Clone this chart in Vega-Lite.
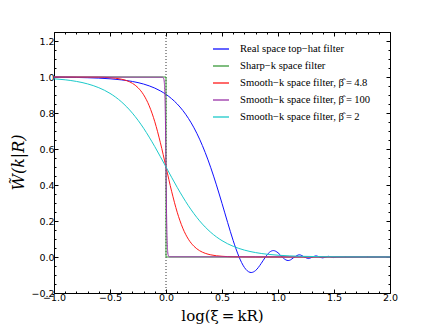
{
  "$schema": "https://vega.github.io/schema/vega-lite/v6.json",
  "width": 336,
  "height": 261,
  "autosize": {"type": "none"},
  "padding": {"left": 54, "top": 32, "right": 44, "bottom": 33},
  "background": "white",
  "config": {
    "view": {"stroke": null},
    "axis": {"grid": false, "domainColor": "black", "tickColor": "black", "labelFont": "DejaVu Sans", "labelFontSize": 9.5, "labelColor": "black", "domainWidth": 1, "tickWidth": 1, "titleColor": "black"},
    "legend": {"orient": "none", "legendX": 158, "legendY": 8, "symbolType": "stroke", "symbolSize": 256, "symbolStrokeWidth": 1.3, "labelFont": "Liberation Serif", "labelFontSize": 10.6, "labelColor": "black", "labelOffset": 10, "rowPadding": 2, "padding": 0, "labelLimit": 300}
  },
  "datasets": {
    "tophat": [
      {"x": -1.0, "W": 0.999, "filter": "Real space top−hat filter"},
      {"x": -0.9, "W": 0.9984, "filter": "Real space top−hat filter"},
      {"x": -0.8, "W": 0.9975, "filter": "Real space top−hat filter"},
      {"x": -0.7, "W": 0.996, "filter": "Real space top−hat filter"},
      {"x": -0.6, "W": 0.9937, "filter": "Real space top−hat filter"},
      {"x": -0.5, "W": 0.99, "filter": "Real space top−hat filter"},
      {"x": -0.4, "W": 0.9842, "filter": "Real space top−hat filter"},
      {"x": -0.3, "W": 0.9751, "filter": "Real space top−hat filter"},
      {"x": -0.2, "W": 0.9608, "filter": "Real space top−hat filter"},
      {"x": -0.1, "W": 0.9383, "filter": "Real space top−hat filter"},
      {"x": -0.05, "W": 0.9228, "filter": "Real space top−hat filter"},
      {"x": 0.0, "W": 0.9035, "filter": "Real space top−hat filter"},
      {"x": 0.05, "W": 0.8796, "filter": "Real space top−hat filter"},
      {"x": 0.1, "W": 0.8502, "filter": "Real space top−hat filter"},
      {"x": 0.15, "W": 0.8142, "filter": "Real space top−hat filter"},
      {"x": 0.2, "W": 0.7703, "filter": "Real space top−hat filter"},
      {"x": 0.25, "W": 0.7175, "filter": "Real space top−hat filter"},
      {"x": 0.3, "W": 0.6546, "filter": "Real space top−hat filter"},
      {"x": 0.35, "W": 0.5807, "filter": "Real space top−hat filter"},
      {"x": 0.4, "W": 0.4957, "filter": "Real space top−hat filter"},
      {"x": 0.45, "W": 0.4007, "filter": "Real space top−hat filter"},
      {"x": 0.5, "W": 0.298, "filter": "Real space top−hat filter"},
      {"x": 0.55, "W": 0.1923, "filter": "Real space top−hat filter"},
      {"x": 0.6, "W": 0.091, "filter": "Real space top−hat filter"},
      {"x": 0.625, "W": 0.045, "filter": "Real space top−hat filter"},
      {"x": 0.6526, "W": 0.0, "filter": "Real space top−hat filter"},
      {"x": 0.675, "W": -0.0309, "filter": "Real space top−hat filter"},
      {"x": 0.7, "W": -0.058, "filter": "Real space top−hat filter"},
      {"x": 0.725, "W": -0.0763, "filter": "Real space top−hat filter"},
      {"x": 0.75, "W": -0.0853, "filter": "Real space top−hat filter"},
      {"x": 0.7606, "W": -0.0862, "filter": "Real space top−hat filter"},
      {"x": 0.8, "W": -0.075, "filter": "Real space top−hat filter"},
      {"x": 0.85, "W": -0.0358, "filter": "Real space top−hat filter"},
      {"x": 0.8879, "W": 0.0, "filter": "Real space top−hat filter"},
      {"x": 0.9, "W": 0.0102, "filter": "Real space top−hat filter"},
      {"x": 0.925, "W": 0.0268, "filter": "Real space top−hat filter"},
      {"x": 0.9588, "W": 0.0356, "filter": "Real space top−hat filter"},
      {"x": 1.0, "W": 0.0235, "filter": "Real space top−hat filter"},
      {"x": 1.0376, "W": 0.0, "filter": "Real space top−hat filter"},
      {"x": 1.05, "W": -0.0074, "filter": "Real space top−hat filter"},
      {"x": 1.0907, "W": -0.0196, "filter": "Real space top−hat filter"},
      {"x": 1.1, "W": -0.0189, "filter": "Real space top−hat filter"},
      {"x": 1.1482, "W": 0.0, "filter": "Real space top−hat filter"},
      {"x": 1.1907, "W": 0.0124, "filter": "Real space top−hat filter"},
      {"x": 1.236, "W": 0.0, "filter": "Real space top−hat filter"},
      {"x": 1.2716, "W": -0.0086, "filter": "Real space top−hat filter"},
      {"x": 1.309, "W": 0.0, "filter": "Real space top−hat filter"},
      {"x": 1.3395, "W": 0.0063, "filter": "Real space top−hat filter"},
      {"x": 1.3715, "W": 0.0, "filter": "Real space top−hat filter"},
      {"x": 1.3982, "W": -0.0048, "filter": "Real space top−hat filter"},
      {"x": 1.426, "W": 0.0, "filter": "Real space top−hat filter"},
      {"x": 1.4496, "W": 0.0038, "filter": "Real space top−hat filter"},
      {"x": 1.4744, "W": 0.0, "filter": "Real space top−hat filter"},
      {"x": 1.4955, "W": -0.0031, "filter": "Real space top−hat filter"},
      {"x": 1.5179, "W": 0.0, "filter": "Real space top−hat filter"},
      {"x": 2.0, "W": 0.0, "filter": "Real space top−hat filter"}
    ],
    "sharpk": [
      {"x": -1.0, "W": 1.0, "o": 1, "filter": "Sharp−k space filter"},
      {"x": 0.0, "W": 1.0, "o": 2, "filter": "Sharp−k space filter"},
      {"x": 0.0, "W": 0.0, "o": 3, "filter": "Sharp−k space filter"},
      {"x": 2.0, "W": 0.0, "o": 4, "filter": "Sharp−k space filter"}
    ],
    "smoothk": [
      {"x": -1.0, "W": 1.0, "filter": "Smooth−k space filter, β̂\u2009=\u20094.8"},
      {"x": -0.6, "W": 0.9987, "filter": "Smooth−k space filter, β̂\u2009=\u20094.8"},
      {"x": -0.5, "W": 0.996, "filter": "Smooth−k space filter, β̂\u2009=\u20094.8"},
      {"x": -0.4, "W": 0.9881, "filter": "Smooth−k space filter, β̂\u2009=\u20094.8"},
      {"x": -0.35, "W": 0.9795, "filter": "Smooth−k space filter, β̂\u2009=\u20094.8"},
      {"x": -0.3, "W": 0.965, "filter": "Smooth−k space filter, β̂\u2009=\u20094.8"},
      {"x": -0.25, "W": 0.9406, "filter": "Smooth−k space filter, β̂\u2009=\u20094.8"},
      {"x": -0.2, "W": 0.9012, "filter": "Smooth−k space filter, β̂\u2009=\u20094.8"},
      {"x": -0.15, "W": 0.84, "filter": "Smooth−k space filter, β̂\u2009=\u20094.8"},
      {"x": -0.1, "W": 0.7513, "filter": "Smooth−k space filter, β̂\u2009=\u20094.8"},
      {"x": -0.05, "W": 0.6347, "filter": "Smooth−k space filter, β̂\u2009=\u20094.8"},
      {"x": 0.0, "W": 0.5, "filter": "Smooth−k space filter, β̂\u2009=\u20094.8"},
      {"x": 0.05, "W": 0.3653, "filter": "Smooth−k space filter, β̂\u2009=\u20094.8"},
      {"x": 0.1, "W": 0.2487, "filter": "Smooth−k space filter, β̂\u2009=\u20094.8"},
      {"x": 0.15, "W": 0.16, "filter": "Smooth−k space filter, β̂\u2009=\u20094.8"},
      {"x": 0.2, "W": 0.0988, "filter": "Smooth−k space filter, β̂\u2009=\u20094.8"},
      {"x": 0.25, "W": 0.0594, "filter": "Smooth−k space filter, β̂\u2009=\u20094.8"},
      {"x": 0.3, "W": 0.035, "filter": "Smooth−k space filter, β̂\u2009=\u20094.8"},
      {"x": 0.35, "W": 0.0205, "filter": "Smooth−k space filter, β̂\u2009=\u20094.8"},
      {"x": 0.4, "W": 0.0119, "filter": "Smooth−k space filter, β̂\u2009=\u20094.8"},
      {"x": 0.5, "W": 0.004, "filter": "Smooth−k space filter, β̂\u2009=\u20094.8"},
      {"x": 0.6, "W": 0.0013, "filter": "Smooth−k space filter, β̂\u2009=\u20094.8"},
      {"x": 0.8, "W": 0.0001, "filter": "Smooth−k space filter, β̂\u2009=\u20094.8"},
      {"x": 1.0, "W": 0.0, "filter": "Smooth−k space filter, β̂\u2009=\u20094.8"},
      {"x": 2.0, "W": 0.0, "filter": "Smooth−k space filter, β̂\u2009=\u20094.8"},
      {"x": -1.0, "W": 1.0, "filter": "Smooth−k space filter, β̂\u2009=\u2009100"},
      {"x": -0.03, "W": 0.999, "filter": "Smooth−k space filter, β̂\u2009=\u2009100"},
      {"x": -0.02, "W": 0.99, "filter": "Smooth−k space filter, β̂\u2009=\u2009100"},
      {"x": -0.015, "W": 0.9693, "filter": "Smooth−k space filter, β̂\u2009=\u2009100"},
      {"x": -0.01, "W": 0.9091, "filter": "Smooth−k space filter, β̂\u2009=\u2009100"},
      {"x": -0.005, "W": 0.7597, "filter": "Smooth−k space filter, β̂\u2009=\u2009100"},
      {"x": 0.0, "W": 0.5, "filter": "Smooth−k space filter, β̂\u2009=\u2009100"},
      {"x": 0.005, "W": 0.2403, "filter": "Smooth−k space filter, β̂\u2009=\u2009100"},
      {"x": 0.01, "W": 0.0909, "filter": "Smooth−k space filter, β̂\u2009=\u2009100"},
      {"x": 0.015, "W": 0.0307, "filter": "Smooth−k space filter, β̂\u2009=\u2009100"},
      {"x": 0.02, "W": 0.0099, "filter": "Smooth−k space filter, β̂\u2009=\u2009100"},
      {"x": 0.03, "W": 0.001, "filter": "Smooth−k space filter, β̂\u2009=\u2009100"},
      {"x": 2.0, "W": 0.0, "filter": "Smooth−k space filter, β̂\u2009=\u2009100"},
      {"x": -1.0, "W": 0.9901, "filter": "Smooth−k space filter, β̂\u2009=\u20092"},
      {"x": -0.9, "W": 0.9844, "filter": "Smooth−k space filter, β̂\u2009=\u20092"},
      {"x": -0.8, "W": 0.9755, "filter": "Smooth−k space filter, β̂\u2009=\u20092"},
      {"x": -0.7, "W": 0.9617, "filter": "Smooth−k space filter, β̂\u2009=\u20092"},
      {"x": -0.6, "W": 0.9406, "filter": "Smooth−k space filter, β̂\u2009=\u20092"},
      {"x": -0.5, "W": 0.9091, "filter": "Smooth−k space filter, β̂\u2009=\u20092"},
      {"x": -0.4, "W": 0.8632, "filter": "Smooth−k space filter, β̂\u2009=\u20092"},
      {"x": -0.3, "W": 0.7992, "filter": "Smooth−k space filter, β̂\u2009=\u20092"},
      {"x": -0.2, "W": 0.7153, "filter": "Smooth−k space filter, β̂\u2009=\u20092"},
      {"x": -0.1, "W": 0.6131, "filter": "Smooth−k space filter, β̂\u2009=\u20092"},
      {"x": 0.0, "W": 0.5, "filter": "Smooth−k space filter, β̂\u2009=\u20092"},
      {"x": 0.1, "W": 0.3869, "filter": "Smooth−k space filter, β̂\u2009=\u20092"},
      {"x": 0.2, "W": 0.2847, "filter": "Smooth−k space filter, β̂\u2009=\u20092"},
      {"x": 0.3, "W": 0.2008, "filter": "Smooth−k space filter, β̂\u2009=\u20092"},
      {"x": 0.4, "W": 0.1368, "filter": "Smooth−k space filter, β̂\u2009=\u20092"},
      {"x": 0.5, "W": 0.0909, "filter": "Smooth−k space filter, β̂\u2009=\u20092"},
      {"x": 0.6, "W": 0.0594, "filter": "Smooth−k space filter, β̂\u2009=\u20092"},
      {"x": 0.7, "W": 0.0383, "filter": "Smooth−k space filter, β̂\u2009=\u20092"},
      {"x": 0.8, "W": 0.0245, "filter": "Smooth−k space filter, β̂\u2009=\u20092"},
      {"x": 0.9, "W": 0.0156, "filter": "Smooth−k space filter, β̂\u2009=\u20092"},
      {"x": 1.0, "W": 0.0099, "filter": "Smooth−k space filter, β̂\u2009=\u20092"},
      {"x": 1.2, "W": 0.004, "filter": "Smooth−k space filter, β̂\u2009=\u20092"},
      {"x": 1.4, "W": 0.0016, "filter": "Smooth−k space filter, β̂\u2009=\u20092"},
      {"x": 1.6, "W": 0.0006, "filter": "Smooth−k space filter, β̂\u2009=\u20092"},
      {"x": 1.8, "W": 0.0003, "filter": "Smooth−k space filter, β̂\u2009=\u20092"},
      {"x": 2.0, "W": 0.0001, "filter": "Smooth−k space filter, β̂\u2009=\u20092"}
    ]
  },
  "layer": [
    {
      "data": {"values": [{"a": 1}]},
      "mark": {"type": "point", "opacity": 0},
      "encoding": {
        "x": {"datum": 0, "type": "quantitative", "scale": {"domain": [-1, 2], "nice": false, "zero": false},
          "axis": {"orient": "bottom", "values": [-1, -0.5, 0, 0.5, 1, 1.5, 2], "format": ".1f", "tickSize": -4, "labelPadding": 3, "labelFlush": false, "labelOverlap": false,
            "title": "log(ξ\u2009=\u2009kR)", "titleFont": "DejaVu Serif", "titleFontSize": 15, "titleFontWeight": "normal", "titleX": 168, "titleY": 22, "titleBaseline": "middle", "titleAlign": "center"}},
        "y": {"datum": 0, "type": "quantitative", "scale": {"domain": [-0.2, 1.25], "nice": false, "zero": false},
          "axis": {"orient": "left", "values": [-0.2, 0, 0.2, 0.4, 0.6, 0.8, 1.0, 1.2], "format": ".1f", "tickSize": -4, "labelPadding": 4, "labelFlush": false, "labelOverlap": false,
            "title": "W̃(k|R)", "titleFont": "DejaVu Serif", "titleFontStyle": "italic", "titleFontSize": 16, "titleFontWeight": "normal", "titleX": -36, "titleY": 130, "titleBaseline": "middle", "titleAlign": "center", "titleAngle": -90}}
      }
    },
    {
      "data": {"values": [{"a": 1}]},
      "mark": {"type": "point", "opacity": 0},
      "encoding": {
        "x": {"datum": 0, "type": "quantitative", "axis": {"orient": "top", "values": [-1, -0.5, 0, 0.5, 1, 1.5, 2], "tickSize": -4, "labels": false, "title": null}},
        "y": {"datum": 0, "type": "quantitative", "axis": {"orient": "right", "values": [-0.2, 0, 0.2, 0.4, 0.6, 0.8, 1.0, 1.2], "tickSize": -4, "labels": false, "title": null}}
      }
    },
    {
      "data": {"values": [{"a": 1}]},
      "mark": {"type": "point", "opacity": 0},
      "encoding": {
        "x": {"datum": 0, "type": "quantitative", "axis": {"orient": "bottom", "domain": false, "values": [-0.9, -0.8, -0.7, -0.6, -0.4, -0.3, -0.2, -0.1, 0.1, 0.2, 0.3, 0.4, 0.6, 0.7, 0.8, 0.9, 1.1, 1.2, 1.3, 1.4, 1.6, 1.7, 1.8, 1.9], "tickSize": -2, "labels": false, "title": null}},
        "y": {"datum": 0, "type": "quantitative", "axis": {"orient": "left", "domain": false, "values": [-0.15, -0.1, -0.05, 0.05, 0.1, 0.15, 0.25, 0.3, 0.35, 0.45, 0.5, 0.55, 0.65, 0.7, 0.75, 0.85, 0.9, 0.95, 1.05, 1.1, 1.15, 1.25], "tickSize": -2, "labels": false, "title": null}}
      }
    },
    {
      "data": {"values": [{"a": 1}]},
      "mark": {"type": "point", "opacity": 0},
      "encoding": {
        "x": {"datum": 0, "type": "quantitative", "axis": {"orient": "top", "domain": false, "values": [-0.9, -0.8, -0.7, -0.6, -0.4, -0.3, -0.2, -0.1, 0.1, 0.2, 0.3, 0.4, 0.6, 0.7, 0.8, 0.9, 1.1, 1.2, 1.3, 1.4, 1.6, 1.7, 1.8, 1.9], "tickSize": -2, "labels": false, "title": null}},
        "y": {"datum": 0, "type": "quantitative", "axis": {"orient": "right", "domain": false, "values": [-0.15, -0.1, -0.05, 0.05, 0.1, 0.15, 0.25, 0.3, 0.35, 0.45, 0.5, 0.55, 0.65, 0.7, 0.75, 0.85, 0.9, 0.95, 1.05, 1.1, 1.15, 1.25], "tickSize": -2, "labels": false, "title": null}}
      }
    },
    {
      "data": {"values": [{"a": 1}]},
      "mark": {"type": "rule", "color": "#333333", "strokeWidth": 1, "strokeDash": [1, 2]},
      "encoding": {
        "x": {"datum": 0, "type": "quantitative", "axis": null}
      }
    },
    {
      "data": {"name": "tophat"},
      "mark": {"type": "line", "interpolate": "monotone", "strokeWidth": 1},
      "encoding": {
        "x": {"field": "x", "type": "quantitative", "axis": null},
        "y": {"field": "W", "type": "quantitative", "axis": null},
        "color": {"field": "filter", "type": "nominal", "title": null,
          "scale": {"domain": ["Real space top−hat filter", "Sharp−k space filter", "Smooth−k space filter, β̂\u2009=\u20094.8", "Smooth−k space filter, β̂\u2009=\u2009100", "Smooth−k space filter, β̂\u2009=\u20092"],
            "range": ["#1010ff", "#3a9a3a", "#ff1a1a", "#9932a8", "#1ccaca"]}}
      }
    },
    {
      "data": {"name": "sharpk"},
      "mark": {"type": "line", "interpolate": "linear", "strokeWidth": 1},
      "encoding": {
        "x": {"field": "x", "type": "quantitative", "axis": null},
        "y": {"field": "W", "type": "quantitative", "axis": null},
        "order": {"field": "o", "type": "quantitative"},
        "color": {"field": "filter", "type": "nominal", "title": null}
      }
    },
    {
      "data": {"name": "smoothk"},
      "mark": {"type": "line", "interpolate": "monotone", "strokeWidth": 1},
      "encoding": {
        "x": {"field": "x", "type": "quantitative", "axis": null},
        "y": {"field": "W", "type": "quantitative", "axis": null},
        "color": {"field": "filter", "type": "nominal", "title": null}
      }
    }
  ],
  "resolve": {"axis": {"x": "independent", "y": "independent"}}
}
